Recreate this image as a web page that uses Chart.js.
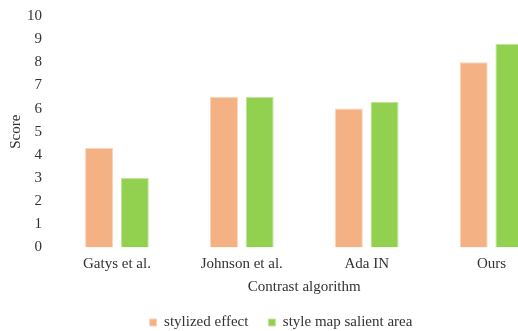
<!DOCTYPE html>
<html>
<head>
<meta charset="utf-8">
<script src="https://cdn.jsdelivr.net/npm/chart.js@4.4.1/dist/chart.umd.min.js"></script>
<style>
  html, body { margin: 0; padding: 0; background: #ffffff; overflow: hidden; }
  #wrap { position: relative; width: 562px; height: 340px; }
</style>
</head>
<body>
<div id="wrap"><canvas id="chart"></canvas></div>
<script>
// Scores per contrast algorithm
const categories = ['Gatys et al.', 'Johnson et al.', 'Ada IN', 'Ours'];
const stylizedEffect = [4.3, 6.5, 6.0, 8.0];
const salientArea = [3.0, 6.5, 6.3, 8.8];
const yTicks = [0, 1, 2, 3, 4, 5, 6, 7, 8, 9, 10];

const textColor = '#333333';
const serif = "'Liberation Serif', 'Times New Roman', serif";

new Chart(document.getElementById('chart'), {
  type: 'bar',
  data: {
    labels: categories,
    datasets: [
      {
        label: 'stylized effect',
        data: stylizedEffect,
        backgroundColor: '#F4B183',
        borderColor: '#FAD3B8',
        borderWidth: 1,
        categoryPercentage: 0.572,
        barPercentage: 0.784
      },
      {
        label: 'style map salient area',
        data: salientArea,
        backgroundColor: '#92D050',
        borderColor: '#C2E69C',
        borderWidth: 1,
        categoryPercentage: 0.572,
        barPercentage: 0.784
      }
    ]
  },
  options: {
    responsive: true,
    maintainAspectRatio: false,
    animation: false,
    layout: { padding: { top: 16, right: 8, left: 8, bottom: 0 } },
    plugins: {
      tooltip: { enabled: false },
      legend: {
        position: 'bottom',
        labels: {
          boxWidth: 7,
          boxHeight: 7,
          padding: 20,
          color: textColor,
          font: { family: serif, size: 15 }
        }
      }
    },
    scales: {
      x: {
        grid: { display: false, drawTicks: false },
        border: { display: false },
        afterFit: (axis) => { axis.height = 47.5; },
        ticks: { color: textColor, font: { family: serif, size: 15 }, padding: 8 },
        title: {
          display: true,
          text: 'Contrast algorithm',
          color: textColor,
          font: { family: serif, size: 15, lineHeight: 1 },
          padding: { top: 0, bottom: 0 }
        }
      },
      y: {
        min: 0,
        max: 10,
        grid: { display: false, drawTicks: false },
        border: { display: false },
        // fixed axis width; no extra label padding above/below the plot
        afterFit: (axis) => { axis.width = 46.5; axis.paddingTop = 0; axis.paddingBottom = 0; },
        afterBuildTicks: (axis) => { axis.ticks = yTicks.map(v => ({ value: v })); },
        ticks: { color: textColor, font: { family: serif, size: 15 }, padding: 12.5 },
        title: {
          display: true,
          text: 'Score',
          color: textColor,
          font: { family: serif, size: 15, lineHeight: 1 },
          padding: { top: 0.5, bottom: 0 }
        }
      }
    }
  }
});
</script>
</body>
</html>
